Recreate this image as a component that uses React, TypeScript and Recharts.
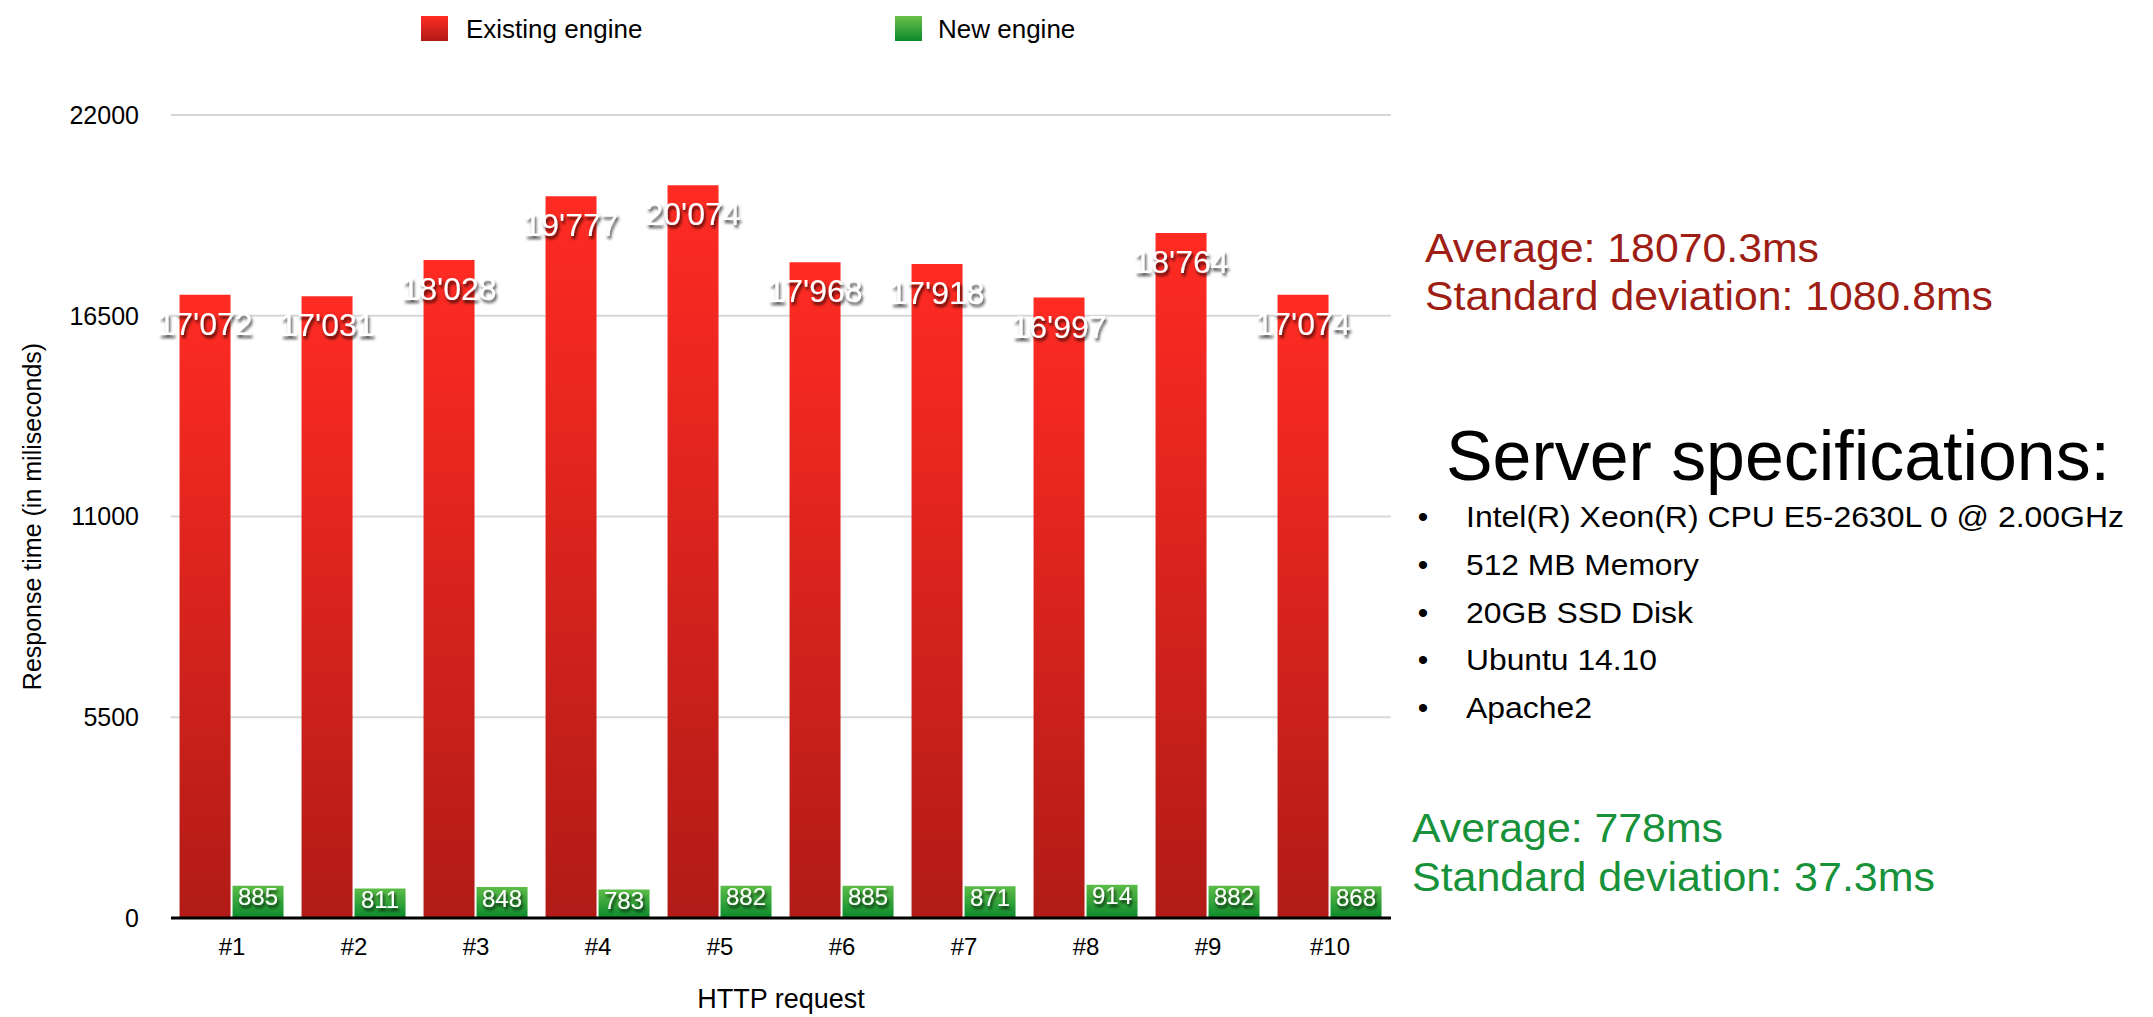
import React from 'react';
import { BarChart, Bar, XAxis, YAxis, CartesianGrid, Legend, LabelList } from 'recharts';

const FONT = '"Liberation Sans", Arial, Helvetica, sans-serif';

// chart data
const requests = ['#1', '#2', '#3', '#4', '#5', '#6', '#7', '#8', '#9', '#10'];
const existingEngine = [17072, 17031, 18028, 19777, 20074, 17968, 17918, 16997, 18764, 17074];
const newEngine = [885, 811, 848, 783, 882, 885, 871, 914, 882, 868];
const yTicks = [0, 5500, 11000, 16500, 22000];
const seriesNames = ['Existing engine', 'New engine'];

// side notes
const existingStats = ['Average: 18070.3ms', 'Standard deviation: 1080.8ms'];
const newStats = ['Average: 778ms', 'Standard deviation: 37.3ms'];
const specsTitle = 'Server specifications:';
const specs = [
  'Intel(R) Xeon(R) CPU E5-2630L 0 @ 2.00GHz',
  '512 MB Memory',
  '20GB SSD Disk',
  'Ubuntu 14.10',
  'Apache2',
];

const data = requests.map((request, i) => ({
  request,
  existing: existingEngine[i],
  fresh: newEngine[i],
}));

// 17072 -> 17'072
const fmt = (v: number) => String(v).replace(/\B(?=(\d{3})+(?!\d))/g, "'");

const renderRedLabel = (props: any) => {
  const { x, y, width, value } = props;
  return (
    <text
      x={x + width / 2}
      y={y + 29}
      textAnchor="middle"
      dominantBaseline="central"
      fill="#fff"
      fontSize={32}
      fontFamily={FONT}
      filter="url(#txtShadow)"
    >
      {fmt(value)}
    </text>
  );
};

const renderGreenLabel = (props: any) => {
  const { x, y, width, value } = props;
  return (
    <text
      x={x + width / 2}
      y={y + 11}
      textAnchor="middle"
      dominantBaseline="central"
      fill="#fff"
      fontSize={24}
      fontFamily={FONT}
      filter="url(#txtShadow)"
    >
      {fmt(value)}
    </text>
  );
};

const renderLegend = () => (
  <div style={{ position: 'relative', width: 1420, height: 60, fontFamily: FONT, fontSize: 26 }}>
    <div style={{ position: 'absolute', left: 421, top: 16, width: 27, height: 25, background: 'linear-gradient(#ff2c24, #b01a17)' }} />
    <div style={{ position: 'absolute', left: 466, top: 13, lineHeight: '32px', color: '#000' }}>{seriesNames[0]}</div>
    <div style={{ position: 'absolute', left: 895, top: 16, width: 27, height: 25, background: 'linear-gradient(#6cc04a, #0a8a2b)' }} />
    <div style={{ position: 'absolute', left: 938, top: 13, lineHeight: '32px', color: '#000' }}>{seriesNames[1]}</div>
  </div>
);

const renderYTitle = (props: any) => {
  const vb = props.viewBox;
  const cy = vb.y + vb.height / 2;
  return (
    <text
      x={32}
      y={cy}
      transform={`rotate(-90, 32, ${cy})`}
      textAnchor="middle"
      dominantBaseline="central"
      fontSize={25}
      fontFamily={FONT}
      fill="#000"
    >
      Response time (in miliseconds)
    </text>
  );
};

const renderXTitle = (props: any) => {
  const vb = props.viewBox;
  return (
    <text
      x={vb.x + vb.width / 2}
      y={vb.y + 90}
      textAnchor="middle"
      fontSize={27}
      fontFamily={FONT}
      fill="#000"
    >
      HTTP request
    </text>
  );
};

const specWidths = [658, 233, 227, 191, 126];

const App = () => {
  return (
    <div style={{ position: 'absolute', left: 0, top: 0, width: 2153, height: 1017, background: '#fff', fontFamily: FONT }}>
      <svg width={0} height={0} style={{ position: 'absolute' }}>
        <defs>
          <linearGradient id="redGrad" x1="0" y1="0" x2="0" y2="1">
            <stop offset="0%" stopColor="#ff2b23" />
            <stop offset="100%" stopColor="#b11b17" />
          </linearGradient>
          <linearGradient id="greenGrad" x1="0" y1="0" x2="0" y2="1">
            <stop offset="0%" stopColor="#5cbd47" />
            <stop offset="100%" stopColor="#0b8a2c" />
          </linearGradient>
          <filter id="txtShadow" x="-20%" y="-40%" width="140%" height="180%">
            <feDropShadow dx="1.5" dy="3" stdDeviation="1.5" floodColor="#000" floodOpacity="0.75" />
          </filter>
        </defs>
      </svg>

      <BarChart
        width={1420}
        height={1017}
        data={data}
        margin={{ top: 115, right: 29, bottom: 0, left: 0 }}
        barCategoryGap="7%"
        barGap={2}
      >
        <CartesianGrid vertical={false} stroke="#d8d8d8" strokeWidth={2} />
        <XAxis
          dataKey="request"
          height={99}
          tickLine={false}
          tickSize={0}
          tickMargin={20}
          axisLine={{ stroke: '#000', strokeWidth: 3 }}
          tick={{ fill: '#000', fontSize: 24, fontFamily: FONT }}
          label={{ content: renderXTitle }}
        />
        <YAxis
          width={171}
          domain={[0, 22000]}
          ticks={yTicks}
          interval={0}
          axisLine={false}
          tickLine={false}
          tickSize={0}
          tickMargin={32}
          tick={{ fill: '#000', fontSize: 25, fontFamily: FONT }}
          label={{ content: renderYTitle }}
        />
        <Legend verticalAlign="middle" align="center" wrapperStyle={{ top: 0, left: 0, width: 1420, height: 60 }} content={renderLegend} />
        <Bar dataKey="existing" name={seriesNames[0]} fill="url(#redGrad)" isAnimationActive={false}>
          <LabelList dataKey="existing" content={renderRedLabel} />
        </Bar>
        <Bar dataKey="fresh" name={seriesNames[1]} fill="url(#greenGrad)" isAnimationActive={false}>
          <LabelList dataKey="fresh" content={renderGreenLabel} />
        </Bar>
      </BarChart>

      <svg width={2153} height={1017} style={{ position: 'absolute', left: 0, top: 0, pointerEvents: 'none' }}>
        <g fontFamily={FONT} fill="#9e1d14" fontSize={40}>
          <text x={1425} y={262} textLength={394} lengthAdjust="spacingAndGlyphs">{existingStats[0]}</text>
          <text x={1425} y={310} textLength={568} lengthAdjust="spacingAndGlyphs">{existingStats[1]}</text>
        </g>
        <text x={1446} y={480} fontFamily={FONT} fontSize={70} fill="#000" textLength={664} lengthAdjust="spacingAndGlyphs">
          {specsTitle}
        </text>
        <g fontFamily={FONT} fontSize={30} fill="#000">
          {specs.map((s, i) => (
            <g key={s}>
              <text x={1423} y={527 + i * 47.8} textAnchor="middle">•</text>
              <text x={1466} y={527 + i * 47.8} textLength={specWidths[i]} lengthAdjust="spacingAndGlyphs">{s}</text>
            </g>
          ))}
        </g>
        <g fontFamily={FONT} fill="#17923a" fontSize={40}>
          <text x={1412} y={842} textLength={311} lengthAdjust="spacingAndGlyphs">{newStats[0]}</text>
          <text x={1412} y={891} textLength={523} lengthAdjust="spacingAndGlyphs">{newStats[1]}</text>
        </g>
      </svg>
    </div>
  );
};

export default App;
